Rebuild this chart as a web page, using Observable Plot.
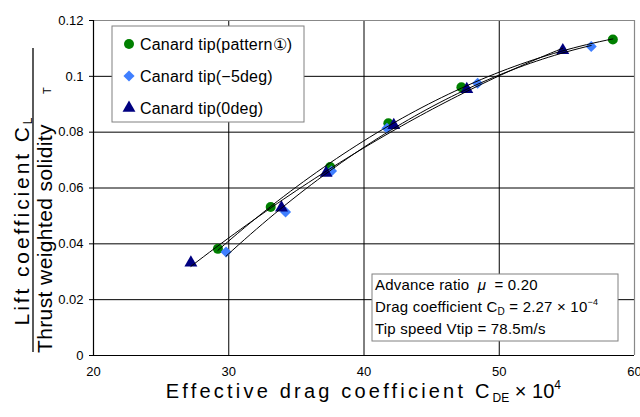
<!DOCTYPE html>
<html>
<head>
<meta charset="utf-8">
<script src="https://cdn.jsdelivr.net/npm/d3@7"></script>
<script src="https://cdn.jsdelivr.net/npm/@observablehq/plot@0.6"></script>
<style>
  html, body { margin: 0; padding: 0; background: #fff; }
  #chart svg { display: block; }
</style>
</head>
<body>
<div id="chart"></div>
<script>
// Series names (legend order)
const seriesNames = ["Canard tip(pattern①)", "Canard tip(−5deg)", "Canard tip(0deg)"];

// Effective drag coefficient C_DE ×10^4 and C_L / σ_T for each series
const patternX = [29.2, 33.1, 37.5, 41.8, 47.2, 58.4];
const patternY = [0.0382, 0.0532, 0.0675, 0.0832, 0.0961, 0.1132];
const minus5X = [29.8, 34.2, 37.6, 41.7, 48.4, 56.8];
const minus5Y = [0.0371, 0.0514, 0.0661, 0.0814, 0.0975, 0.1107];
const zeroX = [27.2, 33.9, 37.2, 42.2, 47.6, 54.7];
const zeroY = [0.0332, 0.0529, 0.0654, 0.0825, 0.0954, 0.1093];

// Axis ticks
const xTicks = [20, 30, 40, 50, 60];
const yTicks = [0, 0.02, 0.04, 0.06, 0.08, 0.1, 0.12];

// Flight condition notes
const noteLines = ["Advance ratio", "Drag coefficient", "Tip speed Vtip = 78.5m/s"];

const seriesX = [patternX, minus5X, zeroX];
const seriesY = [patternY, minus5Y, zeroY];
const colors = ["#008000", "#3f7fff", "#000080"];
const symbols = ["circle", "diamond2", "triangle"];
const radii = [5, 5, 4.8];

const points = seriesNames.flatMap((name, s) =>
  seriesX[s].map((x, i) => ({series: name, x, y: seriesY[s][i]})));

// Second-order polynomial trendline (least squares) for each series
function quadFit(xs, ys) {
  const S = [0, 0, 0, 0, 0], T = [0, 0, 0];
  xs.forEach((x, i) => {
    for (let k = 0; k < 5; k++) S[k] += x ** k;
    for (let k = 0; k < 3; k++) T[k] += ys[i] * x ** k;
  });
  const A = [[S[0], S[1], S[2], T[0]], [S[1], S[2], S[3], T[1]], [S[2], S[3], S[4], T[2]]];
  for (let c = 0; c < 3; c++) {
    for (let r = c + 1; r < 3; r++) {
      const f = A[r][c] / A[c][c];
      for (let k = c; k < 4; k++) A[r][k] -= f * A[c][k];
    }
  }
  const b = [0, 0, 0];
  for (let r = 2; r >= 0; r--) {
    let v = A[r][3];
    for (let k = r + 1; k < 3; k++) v -= A[r][k] * b[k];
    b[r] = v / A[r][r];
  }
  return x => b[0] + b[1] * x + b[2] * x * x;
}

const trend = seriesNames.flatMap((name, s) => {
  const f = quadFit(seriesX[s], seriesY[s]);
  const [x0, x1] = d3.extent(seriesX[s]);
  return d3.range(0, 61).map(i => {
    const x = x0 + (x1 - x0) * i / 60;
    return {series: name, x, y: f(x)};
  });
});

const plot = Plot.plot({
  width: 640,
  height: 417,
  marginLeft: 93,
  marginRight: 6,
  marginTop: 20,
  marginBottom: 62,
  style: {fontFamily: "'Liberation Sans', Arial, sans-serif", fontSize: "13px", color: "#000", background: "#fff"},
  x: {domain: [20, 60]},
  y: {domain: [0, 0.12]},
  symbol: {type: "identity"},
  marks: [
    Plot.ruleX([30, 40, 50], {stroke: "#000", strokeWidth: 1}),
    Plot.ruleY([0.02, 0.04, 0.06, 0.08, 0.1], {stroke: "#000", strokeWidth: 1}),
    Plot.ruleX([60], {stroke: "#888", strokeWidth: 1.2}),
    Plot.ruleY([0.12], {stroke: "#888", strokeWidth: 1.2}),
    Plot.ruleX([20], {stroke: "#000", strokeWidth: 1.2}),
    Plot.ruleY([0], {stroke: "#000", strokeWidth: 1.2}),
    Plot.axisY({ticks: yTicks, tickFormat: "~g", tickSize: 4, tickPadding: 6, label: null, fontSize: 13}),
    Plot.axisX({ticks: xTicks, tickFormat: "~g", tickSize: 0, tickPadding: 11, label: null, fontSize: 13}),
    ...seriesNames.map((name, s) =>
      Plot.dot(points.filter(d => d.series === name), {
        x: "x", y: "y", symbol: symbols[s], r: radii[s],
        fill: colors[s], stroke: "none"
      })),
    ...seriesNames.map(name =>
      Plot.line(trend.filter(d => d.series === name), {x: "x", y: "y", stroke: "#000", strokeWidth: 1})
    )
  ]
});

document.getElementById("chart").appendChild(plot);

const svg = d3.select(plot);
const titleFont = "'Liberation Sans', Arial, sans-serif";

// X axis title
const xt = svg.append("text")
  .attr("x", 365).attr("y", 398)
  .attr("text-anchor", "middle")
  .attr("font-family", titleFont).attr("font-size", 20)
  .attr("letter-spacing", "3.2px")
  .attr("fill", "#000");
xt.append("tspan").text("Effective drag coefficient C");
xt.append("tspan").attr("font-size", 12).attr("dy", 4).attr("letter-spacing", "0px").text("DE");
xt.append("tspan").attr("dy", -4).attr("letter-spacing", "0px").text(" × 10");
xt.append("tspan").attr("font-size", 12).attr("dy", -9).text("4");

// Y axis title as a fraction
const yg = svg.append("g").attr("fill", "#000").attr("font-family", titleFont);
const numer = yg.append("text")
  .attr("transform", "translate(29,220) rotate(-90)")
  .attr("text-anchor", "middle").attr("font-size", 21).attr("letter-spacing", "2.9px");
numer.append("tspan").text("Lift coefficient C");
numer.append("tspan").attr("font-size", 12).attr("dy", 3).text("L");
yg.append("line")
  .attr("x1", 33).attr("x2", 33).attr("y1", 48).attr("y2", 352)
  .attr("stroke", "#000").attr("stroke-width", 1.3);
const denom = yg.append("text")
  .attr("transform", "translate(52,220) rotate(-90)")
  .attr("text-anchor", "middle").attr("font-size", 21).attr("letter-spacing", "0.4px");
denom.append("tspan").text("Thrust weighted solidity");
denom.append("tspan").attr("font-size", 11).attr("dx", 30).attr("dy", -1).text("T");

// Legend
const lg = svg.append("g").attr("font-family", titleFont).attr("font-size", 16)
  .attr("letter-spacing", "0.2px").attr("text-anchor", "start");
lg.append("rect").attr("x", 112).attr("y", 26).attr("width", 192).attr("height", 96)
  .attr("fill", "#fff").attr("stroke", "#808080").attr("stroke-width", 1);
const symbolGen = [d3.symbolCircle, d3.symbolDiamond2, d3.symbolTriangle];
seriesNames.forEach((name, s) => {
  const cy = 44 + s * 32;
  lg.append("path")
    .attr("transform", `translate(129,${cy})`)
    .attr("d", d3.symbol(symbolGen[s], radii[s] * radii[s] * Math.PI)())
    .attr("fill", colors[s]);
  lg.append("text").attr("x", 140).attr("y", cy + 6).attr("fill", "#000").text(name);
});

// Flight condition box
const nb = svg.append("g").attr("font-family", titleFont).attr("font-size", 15)
  .attr("letter-spacing", "0.2px").attr("fill", "#000").attr("text-anchor", "start");
nb.append("rect").attr("x", 372).attr("y", 274).attr("width", 246).attr("height", 67)
  .attr("fill", "#fff").attr("stroke", "#808080").attr("stroke-width", 1);
const l1 = nb.append("text").attr("x", 375).attr("y", 290);
l1.append("tspan").text(noteLines[0] + " ");
l1.append("tspan").attr("font-style", "italic").attr("dx", 4).text("μ");
l1.append("tspan").attr("dx", 4).text(" = 0.20");
const l2 = nb.append("text").attr("x", 375).attr("y", 312);
l2.append("tspan").text(noteLines[1] + " C");
l2.append("tspan").attr("font-size", 10).attr("dy", 3).text("D");
l2.append("tspan").attr("dy", -3).text(" = 2.27 × 10");
l2.append("tspan").attr("font-size", 9).attr("dy", -7).text("−4");
nb.append("text").attr("x", 375).attr("y", 334).text(noteLines[2]);
</script>
</body>
</html>
